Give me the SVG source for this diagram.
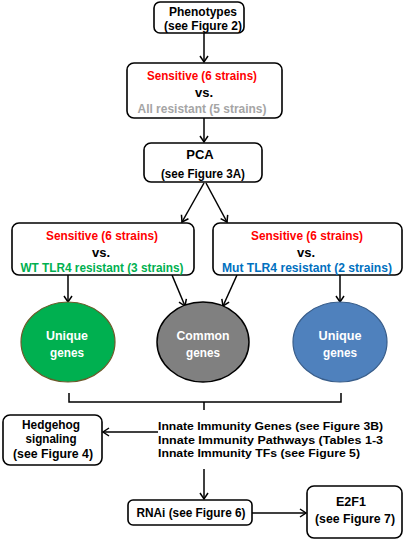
<svg xmlns="http://www.w3.org/2000/svg" width="408" height="540" viewBox="0 0 408 540">
<defs>
<marker id="arr" markerWidth="10" markerHeight="10" refX="8" refY="5" orient="auto" markerUnits="userSpaceOnUse">
<path d="M2,1 L8,5 L2,9" fill="none" stroke="#000" stroke-width="1.5"/>
</marker>
</defs>
<style>
text{font-family:"Liberation Sans",Arial,sans-serif;font-weight:bold;font-size:13px;text-anchor:middle;fill:#000}
.box{fill:#fff;stroke:#000;stroke-width:1.6}
.c{fill:none;stroke:#000;stroke-width:1.5}
.red{fill:#ff0000}
.gray{fill:#a5a5a5}
.green{fill:#00b050}
.blue{fill:#0070c0}
.w{fill:#fff}
.l{text-anchor:start;font-size:11.5px}
</style>
<g id="connectors">
<line class="c" x1="204" y1="33" x2="204" y2="62" marker-end="url(#arr)"/>
<line class="c" x1="204" y1="118" x2="204" y2="142" marker-end="url(#arr)"/>
<line class="c" x1="204" y1="183" x2="182" y2="222" marker-end="url(#arr)"/>
<line class="c" x1="206" y1="183" x2="227" y2="222" marker-end="url(#arr)"/>
<line class="c" x1="68" y1="275" x2="68" y2="302" marker-end="url(#arr)"/>
<line class="c" x1="172" y1="275" x2="185" y2="306" marker-end="url(#arr)"/>
<line class="c" x1="237" y1="275" x2="223" y2="306" marker-end="url(#arr)"/>
<line class="c" x1="340" y1="275" x2="340" y2="302" marker-end="url(#arr)"/>
<path class="c" d="M69,393 V402 H341 V393 M204,402 V410"/>
<line class="c" x1="158" y1="432" x2="103" y2="432" marker-end="url(#arr)"/>
<line class="c" x1="204" y1="469" x2="204" y2="499" marker-end="url(#arr)"/>
<line class="c" x1="252" y1="513" x2="306" y2="513" marker-end="url(#arr)"/>
</g>
<g id="phenotypes">
<rect class="box" x="154" y="2" width="90" height="31" rx="6"/>
<text x="203" y="16" textLength="68" lengthAdjust="spacingAndGlyphs">Phenotypes</text>
<text x="203" y="30" textLength="78" lengthAdjust="spacingAndGlyphs">(see Figure 2)</text>
</g>
<g id="all-vs">
<rect class="box" x="127" y="63" width="155" height="55" rx="7"/>
<text class="red" x="202" y="80" textLength="110" lengthAdjust="spacingAndGlyphs">Sensitive (6 strains)</text>
<text x="204" y="97">vs.</text>
<text class="gray" x="202" y="113" textLength="129" lengthAdjust="spacingAndGlyphs">All resistant (5 strains)</text>
</g>
<g id="pca">
<rect class="box" x="144" y="143" width="118" height="39" rx="7"/>
<text x="200" y="159">PCA</text>
<text x="203" y="178" textLength="84" lengthAdjust="spacingAndGlyphs">(see Figure 3A)</text>
</g>
<g id="wt-vs">
<rect class="box" x="12" y="223" width="182" height="52" rx="7"/>
<text class="red" x="102" y="240" textLength="112" lengthAdjust="spacingAndGlyphs">Sensitive (6 strains)</text>
<text x="101" y="257">vs.</text>
<text class="green" x="102" y="272" textLength="163" lengthAdjust="spacingAndGlyphs">WT TLR4 resistant (3 strains)</text>
</g>
<g id="mut-vs">
<rect class="box" x="213" y="223" width="189" height="52" rx="7"/>
<text class="red" x="307" y="240" textLength="112" lengthAdjust="spacingAndGlyphs">Sensitive (6 strains)</text>
<text x="306" y="257">vs.</text>
<text class="blue" x="307" y="272" textLength="170" lengthAdjust="spacingAndGlyphs">Mut TLR4 resistant (2 strains)</text>
</g>
<g id="unique-wt">
<ellipse cx="68" cy="342" rx="47" ry="40" fill="#00b050" stroke="#6b5a2a" stroke-width="1.2"/>
<text class="w" x="67" y="340" textLength="42" lengthAdjust="spacingAndGlyphs">Unique</text>
<text class="w" x="67" y="357" textLength="34" lengthAdjust="spacingAndGlyphs">genes</text>
</g>
<g id="common">
<ellipse cx="203" cy="342" rx="46" ry="40" fill="#808080" stroke="#000" stroke-width="1.5"/>
<text class="w" x="203" y="340" textLength="53" lengthAdjust="spacingAndGlyphs">Common</text>
<text class="w" x="203" y="357" textLength="34" lengthAdjust="spacingAndGlyphs">genes</text>
</g>
<g id="unique-mut">
<ellipse cx="340" cy="342" rx="47" ry="40" fill="#4f81bd" stroke="#385d8a" stroke-width="1.2"/>
<text class="w" x="340" y="340" textLength="43" lengthAdjust="spacingAndGlyphs">Unique</text>
<text class="w" x="340" y="357" textLength="34" lengthAdjust="spacingAndGlyphs">genes</text>
</g>
<g id="innate">
<text class="l" x="158" y="430" textLength="225" lengthAdjust="spacingAndGlyphs">Innate Immunity Genes (see Figure 3B)</text>
<text class="l" x="158" y="443.5" textLength="225" lengthAdjust="spacingAndGlyphs">Innate Immunity Pathways (Tables 1-3</text>
<text class="l" x="158" y="457" textLength="202" lengthAdjust="spacingAndGlyphs">Innate Immunity TFs  (see Figure 5)</text>
</g>
<g id="hedgehog">
<rect class="box" x="3" y="415" width="99" height="50" rx="7"/>
<text x="51" y="429" textLength="58" lengthAdjust="spacingAndGlyphs">Hedgehog</text>
<text x="51" y="443" textLength="51" lengthAdjust="spacingAndGlyphs">signaling</text>
<text x="53" y="458" textLength="80" lengthAdjust="spacingAndGlyphs">(see Figure 4)</text>
</g>
<g id="rnai">
<rect class="box" x="128" y="500" width="124" height="25" rx="5"/>
<text x="191" y="517" textLength="109" lengthAdjust="spacingAndGlyphs">RNAi (see Figure 6)</text>
</g>
<g id="e2f1">
<rect class="box" x="307" y="486" width="95" height="52" rx="7"/>
<text x="351" y="506" textLength="30" lengthAdjust="spacingAndGlyphs">E2F1</text>
<text x="355" y="523" textLength="80" lengthAdjust="spacingAndGlyphs">(see Figure 7)</text>
</g>
</svg>
